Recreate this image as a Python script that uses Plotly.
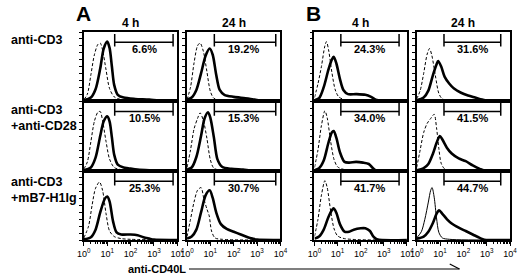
import math
import plotly.graph_objects as go

# ---------------- data (x in log10 units of anti-CD40L fluorescence, y = relative cell count) ----------------
row_labels = ["anti-CD3", "anti-CD3<br>+anti-CD28", "anti-CD3<br>+mB7-H1Ig"]
col_titles = ["4 h", "24 h", "4 h", "24 h"]
panel_letters = ["A", "B"]
percent_r1 = ["6.6%", "19.2%", "24.3%", "31.6%"]
percent_r2 = ["10.5%", "15.3%", "34.0%", "41.5%"]
percent_r3 = ["25.3%", "30.7%", "41.7%", "44.7%"]
tick_vals = [0, 1, 2, 3, 4]
tick_text = ["10<sup>0</sup>", "10<sup>1</sup>", "10<sup>2</sup>", "10<sup>3</sup>", "10<sup>4</sup>"]
gate_left = [1.32, 1.17, 1.14, 1.17]
gate_right = [3.82, 3.80, 3.66, 3.60]
label_x = [2.6, 2.4, 2.4, 2.4]

# row 1: anti-CD3
ctrl_r1c1 = [(0,0.02),(0.15,0.1),(0.3,0.38),(0.45,0.67),(0.6,0.82),(0.7,0.84),(0.8,0.74),(0.95,0.45),(1.1,0.18),(1.3,0.06),(1.6,0.02),(2.0,0.01),(4,0)]
stain_r1c1 = [(0,0.01),(0.3,0.05),(0.5,0.17),(0.7,0.47),(0.85,0.76),(1.0,0.86),(1.1,0.77),(1.2,0.5),(1.3,0.23),(1.45,0.09),(1.7,0.05),(2.2,0.03),(2.8,0.02),(3.2,0.005),(4,0)]
ctrl_r1c2 = [(0,0.02),(0.15,0.2),(0.3,0.55),(0.45,0.8),(0.56,0.84),(0.7,0.72),(0.85,0.43),(1.0,0.14),(1.15,0.04),(1.5,0.01),(4,0)]
stain_r1c2 = [(0,0.02),(0.2,0.05),(0.4,0.16),(0.6,0.4),(0.8,0.66),(0.97,0.76),(1.1,0.67),(1.25,0.38),(1.4,0.16),(1.6,0.09),(2.0,0.06),(2.5,0.04),(2.9,0.02),(3.2,0.005),(4,0)]
ctrl_r1c3 = [(0,0.05),(0.15,0.25),(0.3,0.5),(0.45,0.8),(0.52,0.86),(0.62,0.72),(0.75,0.42),(0.9,0.16),(1.05,0.06),(1.3,0.02),(1.8,0.01),(4,0)]
stain_r1c3 = [(0,0.01),(0.2,0.04),(0.4,0.2),(0.6,0.45),(0.75,0.6),(0.83,0.64),(0.95,0.54),(1.1,0.32),(1.25,0.16),(1.45,0.1),(1.8,0.1),(2.2,0.09),(2.45,0.06),(2.65,0.02),(2.9,0.005),(4,0)]
ctrl_r1c4 = [(0,0.03),(0.15,0.15),(0.3,0.4),(0.45,0.68),(0.55,0.76),(0.65,0.66),(0.8,0.37),(0.95,0.11),(1.1,0.03),(1.4,0.01),(4,0)]
stain_r1c4 = [(0,0.01),(0.3,0.05),(0.5,0.15),(0.7,0.38),(0.85,0.53),(0.92,0.58),(1.05,0.5),(1.2,0.35),(1.4,0.25),(1.6,0.18),(1.9,0.12),(2.2,0.08),(2.5,0.05),(2.8,0.02),(3.0,0.005),(4,0)]

# row 2: anti-CD3 + anti-CD28
ctrl_r2c1 = [(0,0.03),(0.15,0.13),(0.3,0.42),(0.45,0.71),(0.6,0.84),(0.7,0.85),(0.8,0.72),(0.95,0.42),(1.1,0.17),(1.3,0.05),(1.6,0.02),(4,0)]
stain_r2c1 = [(0,0.01),(0.3,0.05),(0.5,0.19),(0.7,0.5),(0.85,0.71),(1.0,0.78),(1.1,0.71),(1.2,0.48),(1.3,0.23),(1.45,0.09),(1.7,0.05),(1.9,0.04),(2.3,0.02),(2.8,0.01),(4,0)]
ctrl_r2c2 = [(0,0.05),(0.15,0.3),(0.3,0.6),(0.45,0.75),(0.56,0.83),(0.7,0.72),(0.85,0.47),(1.0,0.16),(1.15,0.04),(1.5,0.01),(4,0)]
stain_r2c2 = [(0,0.02),(0.2,0.05),(0.4,0.2),(0.6,0.5),(0.75,0.75),(0.9,0.84),(1.0,0.76),(1.15,0.48),(1.3,0.17),(1.5,0.06),(1.9,0.03),(2.4,0.02),(2.8,0.005),(4,0)]
ctrl_r2c3 = [(0,0.05),(0.15,0.3),(0.3,0.65),(0.45,0.86),(0.55,0.76),(0.7,0.42),(0.85,0.16),(1.0,0.06),(1.3,0.02),(4,0)]
stain_r2c3 = [(0,0.01),(0.2,0.04),(0.4,0.15),(0.6,0.4),(0.75,0.55),(0.83,0.57),(0.95,0.47),(1.1,0.27),(1.3,0.13),(1.5,0.12),(1.8,0.13),(2.1,0.12),(2.35,0.1),(2.5,0.05),(2.65,0.01),(4,0)]
ctrl_r2c4 = [(0,0.05),(0.15,0.3),(0.3,0.55),(0.45,0.68),(0.6,0.75),(0.75,0.81),(0.85,0.62),(0.95,0.32),(1.05,0.11),(1.2,0.03),(1.5,0.01),(4,0)]
stain_r2c4 = [(0,0.01),(0.3,0.04),(0.5,0.1),(0.7,0.25),(0.85,0.4),(0.99,0.5),(1.1,0.45),(1.3,0.33),(1.5,0.25),(1.8,0.18),(2.1,0.14),(2.4,0.08),(2.7,0.03),(2.9,0.005),(4,0)]

# row 3: anti-CD3 + mB7-H1Ig
ctrl_r3c1 = [(0,0.03),(0.2,0.2),(0.35,0.5),(0.5,0.75),(0.67,0.84),(0.8,0.72),(0.95,0.38),(1.1,0.13),(1.3,0.05),(1.6,0.02),(2.0,0.01),(4,0)]
stain_r3c1 = [(0,0.01),(0.3,0.04),(0.5,0.15),(0.7,0.4),(0.9,0.6),(1.0,0.63),(1.1,0.56),(1.25,0.27),(1.4,0.11),(1.6,0.08),(2.0,0.08),(2.3,0.07),(2.55,0.04),(2.8,0.02),(3.0,0.005),(4,0)]
ctrl_r3c2 = [(0,0.05),(0.15,0.3),(0.3,0.55),(0.45,0.72),(0.6,0.76),(0.72,0.6),(0.85,0.45),(0.95,0.35),(1.05,0.13),(1.2,0.03),(1.5,0.01),(4,0)]
stain_r3c2 = [(0,0.02),(0.2,0.05),(0.4,0.15),(0.6,0.4),(0.8,0.65),(0.97,0.72),(1.1,0.61),(1.25,0.4),(1.45,0.23),(1.7,0.16),(2.0,0.12),(2.3,0.08),(2.6,0.04),(2.8,0.02),(3.0,0.005),(4,0)]
ctrl_r3c3 = [(0,0.05),(0.15,0.3),(0.3,0.65),(0.45,0.86),(0.55,0.76),(0.7,0.42),(0.85,0.16),(1.0,0.06),(1.3,0.02),(4,0)]
stain_r3c3 = [(0,0.02),(0.2,0.05),(0.4,0.15),(0.6,0.33),(0.75,0.43),(0.83,0.46),(0.95,0.39),(1.1,0.23),(1.3,0.12),(1.5,0.12),(1.7,0.15),(2.0,0.17),(2.2,0.17),(2.4,0.13),(2.55,0.05),(2.7,0.01),(4,0)]
ctrl_r3c4 = [(0,0.03),(0.2,0.12),(0.35,0.3),(0.5,0.55),(0.6,0.72),(0.66,0.76),(0.75,0.62),(0.85,0.32),(0.95,0.11),(1.1,0.03),(1.4,0.01),(4,0)]
stain_r3c4 = [(0,0.02),(0.3,0.05),(0.5,0.12),(0.7,0.25),(0.85,0.38),(0.96,0.43),(1.1,0.38),(1.3,0.3),(1.5,0.24),(1.8,0.18),(2.1,0.13),(2.4,0.08),(2.7,0.03),(2.9,0.005),(4,0)]

# ---------------- layout geometry ----------------
W, H = 520, 274
col_px = [(79, 175), (185, 281), (316, 411), (421, 517)]
row_px = [(32, 101), (101, 171), (171, 240)]
FONT = "Liberation Sans, Arial, Helvetica, sans-serif"

ctrl = [[ctrl_r1c1, ctrl_r1c2, ctrl_r1c3, ctrl_r1c4],
        [ctrl_r2c1, ctrl_r2c2, ctrl_r2c3, ctrl_r2c4],
        [ctrl_r3c1, ctrl_r3c2, ctrl_r3c3, ctrl_r3c4]]
stain = [[stain_r1c1, stain_r1c2, stain_r1c3, stain_r1c4],
         [stain_r2c1, stain_r2c2, stain_r2c3, stain_r2c4],
         [stain_r3c1, stain_r3c2, stain_r3c3, stain_r3c4]]
percents = [percent_r1, percent_r2, percent_r3]

fig = go.Figure()
layout = dict(width=W, height=H, margin=dict(l=0, r=0, t=0, b=0),
              paper_bgcolor="white", plot_bgcolor="white", showlegend=False,
              font=dict(family=FONT, color="black"))
shapes = []
annotations = []

minor_vals = [d + math.log10(k) for d in range(4) for k in range(2, 10)]

idx = 0
for r in range(3):
    for c in range(4):
        idx += 1
        xa = "x" if idx == 1 else f"x{idx}"
        ya = "y" if idx == 1 else f"y{idx}"
        xkey = "xaxis" if idx == 1 else f"xaxis{idx}"
        ykey = "yaxis" if idx == 1 else f"yaxis{idx}"
        x0, x1 = col_px[c]
        t0, t1 = row_px[r]
        bottom = (r == 2)
        layout[xkey] = dict(
            domain=[x0 / W, x1 / W], anchor=ya, range=[0, 4],
            showline=True, mirror=True, linecolor="black", linewidth=1.5,
            showgrid=False, zeroline=False,
            tickvals=tick_vals, ticktext=tick_text,
            ticks="outside" if bottom else "", ticklen=4, tickwidth=1, tickcolor="black",
            showticklabels=bottom, tickfont=dict(size=9, family=FONT),
            minor=dict(tickvals=minor_vals, ticks="outside" if bottom else "", ticklen=2, tickcolor="black"),
        )
        layout[ykey] = dict(
            domain=[1 - t1 / H, 1 - t0 / H], anchor=xa, range=[0, 1],
            showline=True, mirror=True, linecolor="black", linewidth=1.5,
            showgrid=False, zeroline=False, showticklabels=False,
            tickvals=[i / 10 for i in range(11)], ticks="outside", ticklen=3, tickcolor="black",
        )
        cx = [p[0] for p in ctrl[r][c]]
        cy = [p[1] for p in ctrl[r][c]]
        sx = [p[0] for p in stain[r][c]]
        sy = [p[1] for p in stain[r][c]]
        ctrl_dash = "solid" if (r == 2 and c == 3) else "3px,2px"
        fig.add_trace(go.Scatter(x=cx, y=cy, mode="lines", xaxis=xa, yaxis=ya,
                                 line=dict(color="black", width=1, dash=ctrl_dash, shape="spline", smoothing=0.8),
                                 hoverinfo="skip"))
        fig.add_trace(go.Scatter(x=sx, y=sy, mode="lines", xaxis=xa, yaxis=ya,
                                 line=dict(color="black", width=2.6, shape="spline", smoothing=0.8),
                                 hoverinfo="skip"))
        # gate marker
        gl, gr = gate_left[c], gate_right[c]
        shapes.append(dict(type="line", xref=xa, yref=ya, x0=gl, x1=gr, y0=0.85, y1=0.85,
                           line=dict(color="black", width=1.5)))
        for gx in (gl, gr):
            shapes.append(dict(type="line", xref=xa, yref=ya, x0=gx, x1=gx, y0=0.79, y1=0.97,
                               line=dict(color="black", width=1.5)))
        annotations.append(dict(xref=xa, yref=ya, x=label_x[c], y=0.75, text=f"<b>{percents[r][c]}</b>",
                                showarrow=False, font=dict(size=11, family=FONT)))

# column titles
for c in range(4):
    x0, x1 = col_px[c]
    annotations.append(dict(xref="paper", yref="paper", x=(x0 + x1) / 2 / W, y=1 - 23 / H,
                            text=f"<b>{col_titles[c]}</b>", showarrow=False,
                            font=dict(size=12, family=FONT), xanchor="center", yanchor="middle"))
# panel letters
for i, (px, py) in enumerate([(79, 13), (315, 13)]):
    annotations.append(dict(xref="paper", yref="paper", x=px / W, y=1 - py / H,
                            text=f"<b>{panel_letters[i]}</b>", showarrow=False,
                            font=dict(size=21, family=FONT), xanchor="center", yanchor="middle"))
# row labels
for r, py in enumerate([40, 118, 190]):
    annotations.append(dict(xref="paper", yref="paper", x=2 / W, y=1 - py / H,
                            text=f"<b>{row_labels[r]}</b>", showarrow=False, align="left",
                            font=dict(size=12.5, family=FONT), xanchor="left", yanchor="middle"))
# x axis title with arrow
annotations.append(dict(xref="paper", yref="paper", x=154 / W, y=1 - 269 / H,
                        text="<b>anti-CD40L</b>", showarrow=False,
                        font=dict(size=11, family=FONT), xanchor="center", yanchor="middle"))
shapes.append(dict(type="line", xref="paper", yref="paper", x0=187 / W, x1=465 / W,
                   y0=1 - 269 / H, y1=1 - 269 / H, line=dict(color="black", width=1.2)))
shapes.append(dict(type="line", xref="paper", yref="paper", x0=455 / W, x1=465 / W,
                   y0=1 - 264 / H, y1=1 - 269 / H, line=dict(color="black", width=1.2)))

layout["shapes"] = shapes
layout["annotations"] = annotations
fig.update_layout(**layout)
fig.write_html("out.html", config={"displayModeBar": False},
               post_script="document.body.style.margin='0px';document.body.style.overflow='hidden';")
